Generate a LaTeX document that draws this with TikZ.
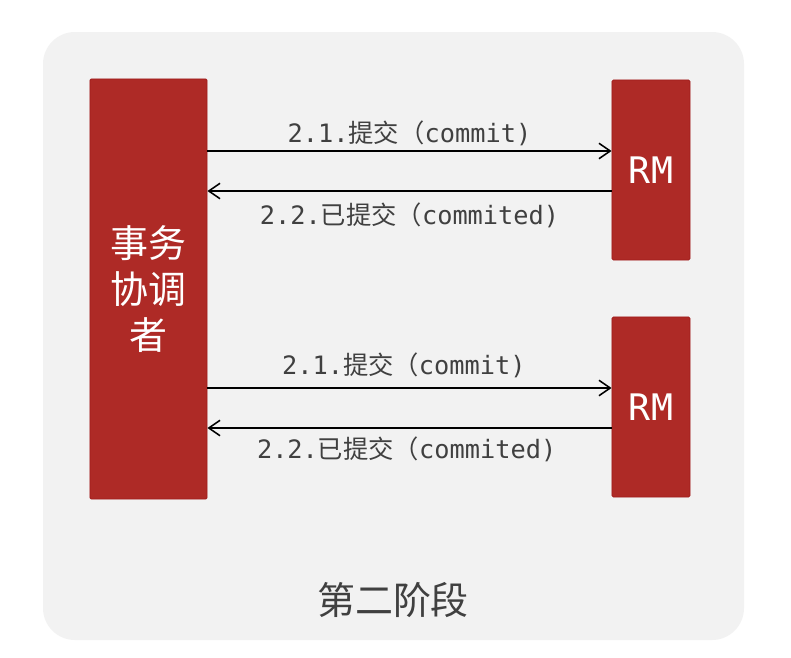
\documentclass[tikz,border=0pt]{standalone}
\usepackage{fontspec}
\setmainfont{Noto Sans CJK SC}
\setmonofont{DejaVu Sans Mono}
\newfontfamily\cjk{Noto Sans CJK SC}
\usetikzlibrary{arrows.meta, positioning}

\definecolor{boxred}{HTML}{AE2A26}
\definecolor{boxedge}{HTML}{A01C1C}
\definecolor{panelgray}{HTML}{F2F2F2}
\definecolor{labelgray}{HTML}{404040}

\begin{document}
\begin{tikzpicture}[
  x=0.025cm, y=-0.025cm,
  redbox/.style={
    draw=boxedge,
    fill=boxred,
    line width=0.6pt,
    rounded corners=1pt,
    text=white,
    align=center,
    inner sep=0pt
  },
  msg/.style={
    draw=black,
    line width=1.1pt,
    -{Straight Barb[length=8pt,width=11pt,line width=1.1pt]}
  },
  msglabel/.style={
    font=\fontsize{18}{20}\selectfont\ttfamily,
    text=labelgray,
    inner sep=3pt
  }
]

% Panel and page
\useasboundingbox (0,0) rectangle (791,658);
\fill[white] (0,0) rectangle (791,658);
\fill[panelgray, rounded corners=0.8cm] (43,32) rectangle (744,640);

% Coordinator and resource managers
\node[redbox, minimum width=2.925cm, minimum height=10.5cm,
  font=\fontsize{27}{33}\selectfont] (coord) at (148.5,289)
{事务\\协调\\者};

\node[redbox, minimum width=1.95cm, minimum height=4.5cm,
  font=\fontsize{26}{30}\selectfont\ttfamily] (rmA) at (651,170) {RM};

\node[redbox, minimum width=1.95cm, minimum height=4.5cm,
  font=\fontsize{26}{30}\selectfont\ttfamily] (rmB) at (651,407) {RM};

% Messages to first RM
\draw[msg] ([yshift=0.475cm]rmA.west -| coord.east) -- ([yshift=0.475cm]rmA.west)
  node[msglabel, midway, above] (commitA) {2.1.{\cjk 提交（}commit)};
\draw[msg] ([yshift=-0.525cm]rmA.west) -- ([yshift=-0.525cm]rmA.west -| coord.east)
  node[msglabel, midway, below=5pt] (doneA) {2.2.{\cjk 已提交（}commited)};

% Messages to second RM
\draw[msg] ([yshift=0.475cm]rmB.west -| coord.east) -- ([yshift=0.475cm]rmB.west)
  node[msglabel, midway, above=4pt, xshift=-4pt] (commitB) {2.1.{\cjk 提交（}commit)};
\draw[msg] ([yshift=-0.525cm]rmB.west) -- ([yshift=-0.525cm]rmB.west -| coord.east)
  node[msglabel, midway, below=3pt, xshift=-2pt] (doneB) {2.2.{\cjk 已提交（}commited)};

% Phase title
\node[font=\fontsize{27}{32}\selectfont, text=labelgray] (phase) at (393,600) {第二阶段};

\end{tikzpicture}
\end{document}
